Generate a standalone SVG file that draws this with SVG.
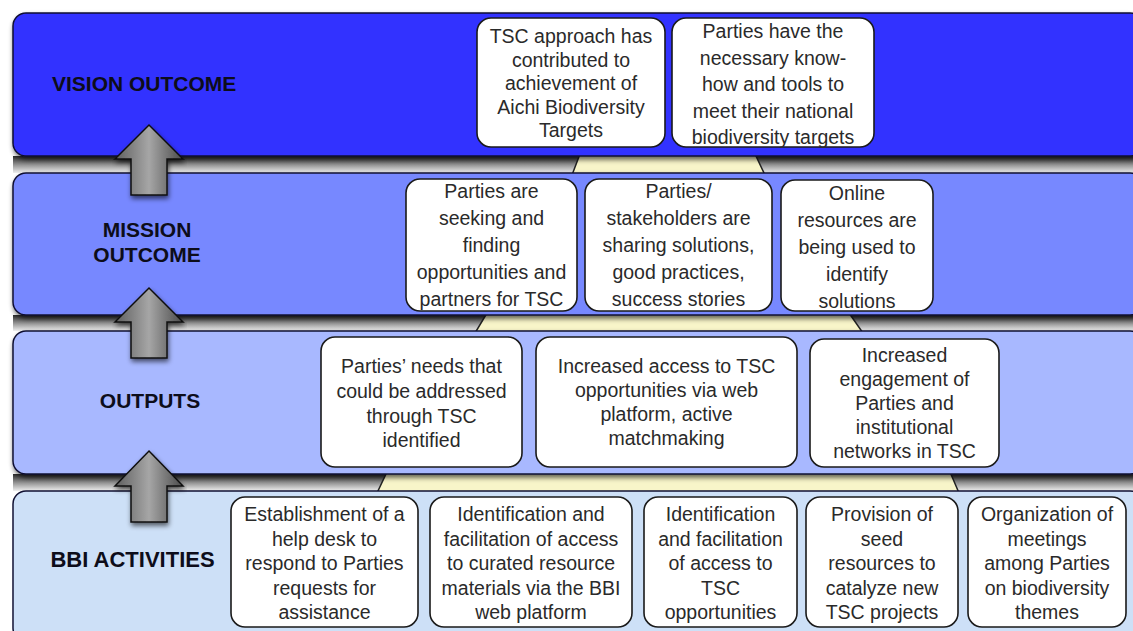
<svg xmlns="http://www.w3.org/2000/svg" width="1133" height="631" viewBox="0 0 1133 631">
<defs>
<linearGradient id="gArrow" x1="0" y1="0" x2="1" y2="0">
<stop offset="0" stop-color="#5e5e5e"/>
<stop offset="0.5" stop-color="#a6a6a6"/>
<stop offset="1" stop-color="#4a4a4a"/>
</linearGradient>
<linearGradient id="gGap" x1="0" y1="0" x2="0" y2="1">
<stop offset="0" stop-color="#2a2a2a"/>
<stop offset="0.55" stop-color="#9a9a9a"/>
<stop offset="1" stop-color="#efefef"/>
</linearGradient>
<filter id="fSh" x="-5%" y="-10%" width="110%" height="130%">
<feGaussianBlur in="SourceAlpha" stdDeviation="2.5"/>
<feOffset dx="1" dy="3"/>
<feComponentTransfer><feFuncA type="linear" slope="0.6"/></feComponentTransfer>
<feMerge><feMergeNode/><feMergeNode in="SourceGraphic"/></feMerge>
</filter>
</defs>
<style>
.band{stroke:#111133;stroke-width:1.5}
.gap{fill:url(#gGap)}
.trap{fill:#f8f5c9;stroke:#222;stroke-width:1.5}
.node rect{fill:#ffffff;stroke:#1a1a1a;stroke-width:1.6}
.node text{font-family:"Liberation Sans",Arial,Helvetica,sans-serif;font-size:19.5px;fill:#2a2a2a;text-anchor:middle}
.lbl{font-family:"Liberation Sans",Arial,Helvetica,sans-serif;font-size:21px;font-weight:bold;fill:#0d0d1a}
.arrow{fill:url(#gArrow);stroke:#111;stroke-width:1.5;stroke-linejoin:miter}
</style>
<rect width="1133" height="631" fill="#ffffff"/>

<!-- gap strips -->
<rect class="gap" x="13" y="156" width="1125" height="17"/>
<rect class="gap" x="13" y="315" width="1125" height="16"/>
<rect class="gap" x="13" y="474" width="1125" height="17"/>

<!-- trapezoids -->
<g id="trapezoids">
<polygon class="trap" points="580,154 755,154 765,175 572,175"/>
<polygon class="trap" points="487,313 849,313 863,333 475,333"/>
<polygon class="trap" points="387,472 950,472 959,493 377,493"/>
</g>

<!-- bands -->
<g id="band-vision">
<rect class="band" x="13" y="13" width="1130" height="143" rx="13" fill="#3333ff" filter="url(#fSh)"/>
<text class="lbl" x="52" y="91">VISION OUTCOME</text>
</g>
<g id="band-mission">
<rect class="band" x="13" y="173" width="1130" height="142" rx="13" fill="#7788ff" filter="url(#fSh)"/>
<text class="lbl" x="147" y="237" text-anchor="middle">MISSION</text>
<text class="lbl" x="147" y="262" text-anchor="middle">OUTCOME</text>
</g>
<g id="band-outputs">
<rect class="band" x="13" y="331" width="1130" height="143" rx="13" fill="#a8b8ff" filter="url(#fSh)"/>
<text class="lbl" x="150" y="408" text-anchor="middle">OUTPUTS</text>
</g>
<g id="band-activities">
<rect class="band" x="13" y="491" width="1130" height="150" rx="13" fill="#cde0f7"/>
<text class="lbl" x="132.5" y="567" text-anchor="middle" style="font-size:22px">BBI ACTIVITIES</text>
</g>

<!-- vision nodes -->
<g id="v1" class="node">
<rect x="477" y="18" width="188" height="129" rx="14"/>
<text x="571" y="43">TSC approach has</text>
<text x="571" y="66.5">contributed to</text>
<text x="571" y="90">achievement of</text>
<text x="571" y="113.5">Aichi Biodiversity</text>
<text x="571" y="137">Targets</text>
</g>
<g id="v2" class="node">
<rect x="672" y="18" width="202" height="129" rx="14"/>
<text x="773" y="38">Parties have the</text>
<text x="773" y="64.5">necessary know-</text>
<text x="773" y="91">how and tools to</text>
<text x="773" y="117.5">meet their national</text>
<text x="773" y="144">biodiversity targets</text>
</g>

<!-- mission nodes -->
<g id="m1" class="node">
<rect x="406" y="179" width="171" height="132" rx="14"/>
<text x="491.5" y="198">Parties are</text>
<text x="491.5" y="225">seeking and</text>
<text x="491.5" y="252">finding</text>
<text x="491.5" y="279">opportunities and</text>
<text x="491.5" y="306">partners for TSC</text>
</g>
<g id="m2" class="node">
<rect x="585" y="179" width="187" height="132" rx="14"/>
<text x="678.5" y="198">Parties/</text>
<text x="678.5" y="225">stakeholders are</text>
<text x="678.5" y="252">sharing solutions,</text>
<text x="678.5" y="279">good practices,</text>
<text x="678.5" y="306">success stories</text>
</g>
<g id="m3" class="node">
<rect x="781" y="180" width="152" height="131" rx="14"/>
<text x="857" y="200">Online</text>
<text x="857" y="227">resources are</text>
<text x="857" y="254">being used to</text>
<text x="857" y="281">identify</text>
<text x="857" y="308">solutions</text>
</g>

<!-- output nodes -->
<g id="o1" class="node">
<rect x="321" y="337" width="201" height="130" rx="14"/>
<text x="421.5" y="373">Parties’ needs that</text>
<text x="421.5" y="398">could be addressed</text>
<text x="421.5" y="423">through TSC</text>
<text x="421.5" y="447">identified</text>
</g>
<g id="o2" class="node">
<rect x="536" y="337" width="261" height="130" rx="14"/>
<text x="666.5" y="373">Increased access to TSC</text>
<text x="666.5" y="397">opportunities via web</text>
<text x="666.5" y="421">platform, active</text>
<text x="666.5" y="445">matchmaking</text>
</g>
<g id="o3" class="node">
<rect x="810" y="339" width="189" height="128" rx="14"/>
<text x="904.5" y="362">Increased</text>
<text x="904.5" y="386">engagement of</text>
<text x="904.5" y="410">Parties and</text>
<text x="904.5" y="434">institutional</text>
<text x="904.5" y="458">networks in TSC</text>
</g>

<!-- activity nodes -->
<g id="a1" class="node">
<rect x="231" y="497" width="187" height="130" rx="14"/>
<text x="324.5" y="521">Establishment of a</text>
<text x="324.5" y="545.5">help desk to</text>
<text x="324.5" y="570">respond to Parties</text>
<text x="324.5" y="594.5">requests for</text>
<text x="324.5" y="619">assistance</text>
</g>
<g id="a2" class="node">
<rect x="430" y="497" width="202" height="130" rx="14"/>
<text x="531" y="521">Identification and</text>
<text x="531" y="545.5">facilitation of access</text>
<text x="531" y="570">to curated resource</text>
<text x="531" y="594.5">materials via the BBI</text>
<text x="531" y="619">web platform</text>
</g>
<g id="a3" class="node">
<rect x="644" y="497" width="153" height="130" rx="14"/>
<text x="720.5" y="521">Identification</text>
<text x="720.5" y="545.5">and facilitation</text>
<text x="720.5" y="570">of access to</text>
<text x="720.5" y="594.5">TSC</text>
<text x="720.5" y="619">opportunities</text>
</g>
<g id="a4" class="node">
<rect x="806" y="497" width="152" height="130" rx="14"/>
<text x="882" y="521">Provision of</text>
<text x="882" y="545.5">seed</text>
<text x="882" y="570">resources to</text>
<text x="882" y="594.5">catalyze new</text>
<text x="882" y="619">TSC projects</text>
</g>
<g id="a5" class="node">
<rect x="968" y="497" width="158" height="130" rx="14"/>
<text x="1047" y="521">Organization of</text>
<text x="1047" y="545.5">meetings</text>
<text x="1047" y="570">among Parties</text>
<text x="1047" y="594.5">on biodiversity</text>
<text x="1047" y="619">themes</text>
</g>

<!-- connectors -->
<g id="connectors">
<path class="arrow" filter="url(#fSh)" d="M149,125 L183,159 L167,159 L167,195 L131,195 L131,159 L115,159 Z"/>
<path class="arrow" filter="url(#fSh)" d="M149,288 L183,322 L167,322 L167,358 L131,358 L131,322 L115,322 Z"/>
<path class="arrow" filter="url(#fSh)" d="M149,451 L183,486 L167,486 L167,522 L131,522 L131,486 L115,486 Z"/>
</g>
</svg>
